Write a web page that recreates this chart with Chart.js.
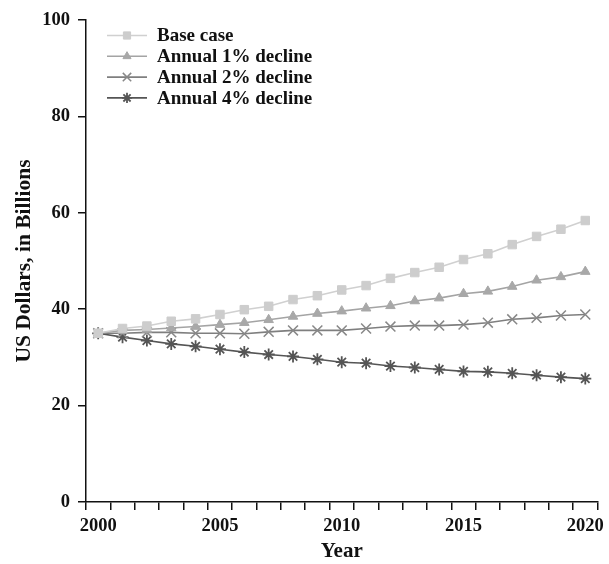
<!DOCTYPE html>
<html>
<head>
<meta charset="utf-8">
<script src="https://cdn.jsdelivr.net/npm/chart.js@4"></script>
<style>
  html, body { margin: 0; padding: 0; background: #fff; }
  #wrap { width: 609px; height: 564px; }
</style>
</head>
<body>
<div id="wrap"><canvas id="myChart"></canvas></div>
<script>
const years = ['2000','2001','2002','2003','2004','2005','2006','2007','2008','2009','2010',
               '2011','2012','2013','2014','2015','2016','2017','2018','2019','2020'];
const baseCase = [35, 36.0, 36.5, 37.5, 38.0, 38.9, 39.9, 40.6, 42.0, 42.8, 44.0,
                  44.9, 46.4, 47.6, 48.7, 50.3, 51.5, 53.4, 55.1, 56.6, 58.4];
const decline1 = [35, 35.6, 35.8, 36.1, 36.4, 36.8, 37.2, 37.8, 38.5, 39.1, 39.6,
                  40.2, 40.7, 41.7, 42.3, 43.2, 43.7, 44.7, 46.0, 46.7, 47.8];
const decline2 = [35, 35.0, 35.2, 35.2, 35.0, 35.0, 34.9, 35.3, 35.6, 35.6, 35.6,
                  36.0, 36.4, 36.6, 36.6, 36.8, 37.2, 37.9, 38.2, 38.7, 38.9];
const decline4 = [35, 34.2, 33.5, 32.8, 32.3, 31.7, 31.1, 30.6, 30.2, 29.6, 29.0,
                  28.8, 28.2, 27.9, 27.5, 27.1, 27.0, 26.7, 26.3, 25.9, 25.6];
const yTicks = [0, 20, 40, 60, 80, 100];

const serif = 'Liberation Serif, Times New Roman, serif';

// legend drawn as line + marker rows inside the plot, like the original
const lineLegend = {
    id: 'lineLegend',
    afterDraw(chart) {
        const ctx = chart.ctx;
        const area = chart.chartArea;
        const x0 = area.left + 21, x1 = area.left + 61, tx = area.left + 71;
        ctx.save();
        chart.data.datasets.forEach((ds, i) => {
            const y = area.top + 15.5 + i * 20.8;
            ctx.strokeStyle = ds.borderColor;
            ctx.lineWidth = ds.borderWidth;
            ctx.beginPath();
            ctx.moveTo(x0, y);
            ctx.lineTo(x1, y);
            ctx.stroke();
            ctx.fillStyle = ds.pointBackgroundColor;
            ctx.strokeStyle = ds.pointBorderColor;
            ctx.lineWidth = ds.pointBorderWidth || 1;
            Chart.helpers.drawPoint(ctx, {
                pointStyle: ds.pointStyle,
                rotation: 0,
                radius: ds.pointRadius * 0.85,
                borderWidth: ds.pointBorderWidth || 1
            }, (x0 + x1) / 2, y);
            ctx.fillStyle = '#111';
            ctx.font = 'bold 19px ' + serif;
            ctx.textBaseline = 'middle';
            ctx.textAlign = 'left';
            ctx.fillText(ds.label, tx, y + 1);
        });
        ctx.restore();
    }
};

const ctx1 = document.getElementById('myChart').getContext('2d');
const myChart = new Chart(ctx1, {
    type: 'line',
    data: {
        labels: years,
        datasets: [
            {
                label: 'Base case',
                data: baseCase,
                borderColor: '#d0d0d0',
                borderWidth: 1.6,
                pointStyle: 'rect',
                pointRadius: 6,
                pointBorderWidth: 1,
                pointBackgroundColor: '#cdcdcd',
                pointBorderColor: '#cdcdcd',
                tension: 0
            },
            {
                label: 'Annual 1% decline',
                data: decline1,
                borderColor: '#a4a4a4',
                borderWidth: 1.6,
                pointStyle: 'triangle',
                pointRadius: 5.5,
                pointBorderWidth: 1,
                pointBackgroundColor: '#a8a8a8',
                pointBorderColor: '#a8a8a8',
                tension: 0
            },
            {
                label: 'Annual 2% decline',
                data: decline2,
                borderColor: '#7f7f7f',
                borderWidth: 1.6,
                pointStyle: 'crossRot',
                pointRadius: 7,
                pointBorderWidth: 1.5,
                pointBackgroundColor: '#888',
                pointBorderColor: '#888',
                tension: 0
            },
            {
                label: 'Annual 4% decline',
                data: decline4,
                borderColor: '#555',
                borderWidth: 1.6,
                pointStyle: 'star',
                pointRadius: 6,
                pointBorderWidth: 1.8,
                pointBackgroundColor: '#555',
                pointBorderColor: '#555',
                tension: 0
            }
        ]
    },
    options: {
        responsive: true,
        maintainAspectRatio: false,
        animation: false,
        layout: {
            padding: { top: 20, right: 9, left: 0, bottom: 0 }
        },
        plugins: {
            legend: { display: false },
            tooltip: { enabled: false }
        },
        scales: {
            x: {
                type: 'category',
                offset: true,
                border: { color: '#111', width: 1.5 },
                grid: {
                    offset: true,
                    drawOnChartArea: false,
                    drawTicks: true,
                    tickLength: 8,
                    color: '#111',
                    lineWidth: 1.5
                },
                ticks: {
                    autoSkip: false,
                    maxRotation: 0,
                    padding: 5,
                    color: '#111',
                    font: { family: serif, size: 18.5, weight: 'bold' },
                    callback: function (value) {
                        const lab = this.getLabelForValue(value);
                        return Number(lab) % 5 === 0 ? lab : '';
                    }
                },
                title: {
                    display: true,
                    text: 'Year',
                    color: '#111',
                    padding: { top: 5, bottom: 0 },
                    font: { family: serif, size: 21, weight: 'bold' }
                },
                afterFit: (scale) => { scale.height = 62; }
            },
            y: {
                min: 0,
                max: 100,
                border: { color: '#111', width: 1.5 },
                grid: {
                    drawOnChartArea: false,
                    drawTicks: true,
                    tickLength: 8,
                    color: '#111',
                    lineWidth: 1.5
                },
                afterBuildTicks: (scale) => { scale.ticks = yTicks.map(v => ({ value: v })); },
                ticks: {
                    padding: 8,
                    color: '#111',
                    font: { family: serif, size: 18.5, weight: 'bold' }
                },
                title: {
                    display: true,
                    text: 'US Dollars, in Billions',
                    color: '#111',
                    padding: { top: 12, bottom: 0 },
                    font: { family: serif, size: 21.5, weight: 'bold' }
                },
                afterFit: (scale) => { scale.width = 86; }
            }
        }
    },
    plugins: [lineLegend]
});
</script>
</body>
</html>
